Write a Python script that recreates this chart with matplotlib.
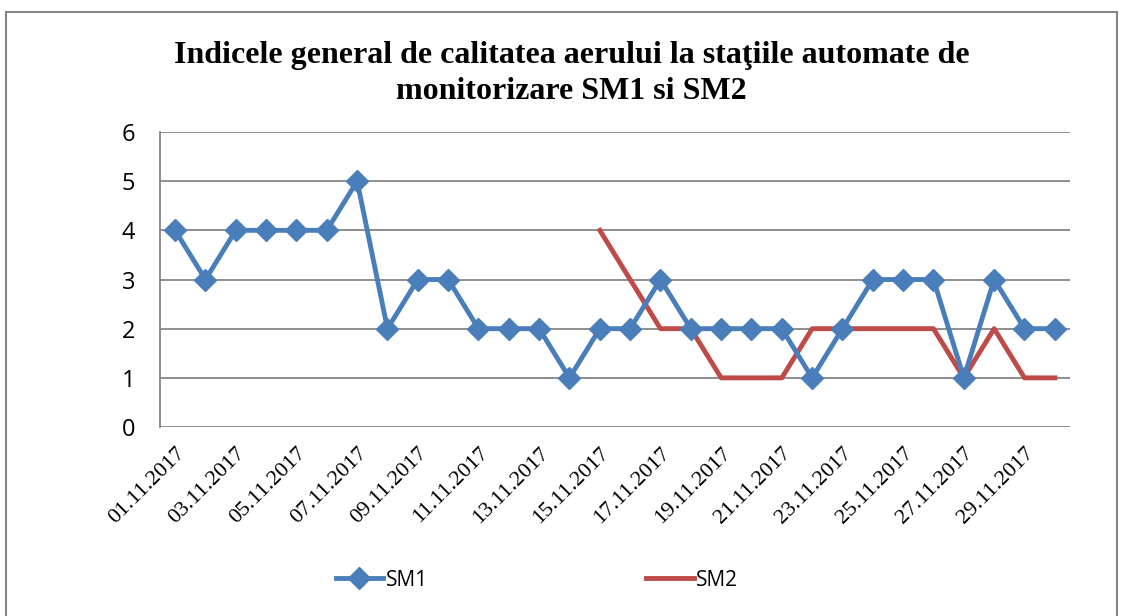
import matplotlib
matplotlib.use("Agg")
import matplotlib.pyplot as plt
from matplotlib.patches import Rectangle

# date zilnice, noiembrie 2017
zile = [f"{d:02d}.11.2017" for d in range(1, 31)]
sm1 = [4, 3, 4, 4, 4, 4, 5, 2, 3, 3, 2, 2, 2, 1, 2, 2, 3, 2, 2, 2, 2, 1, 2, 3, 3, 3, 1, 3, 2, 2]
sm2 = [None] * 14 + [4, 3, 2, 2, 1, 1, 1, 2, 2, 2, 2, 2, 1, 2, 1, 1]
yticks = [0, 1, 2, 3, 4, 5, 6]

fig = plt.figure(figsize=(11.21, 6.16), dpi=100)
ax = fig.add_axes([0.1427, 0.3068, 0.8118, 0.4789])

# chenarul graficului
fig.patches.append(Rectangle((6 / 1121, -0.05), 1111 / 1121, 1 - 12 / 616 + 0.05,
                             transform=fig.transFigure, fill=False,
                             edgecolor="#868686", linewidth=1.5))

x = list(range(len(zile)))
sm2_x = [i for i, v in zip(x, sm2) if v is not None]
sm2_y = [v for v in sm2 if v is not None]

ax.plot(x, sm1, color="#4A7EBB", lw=3.5, marker="D", markersize=11, label="SM1", zorder=3)
ax.plot(sm2_x, sm2_y, color="#BE4B48", lw=3.5, label="SM2", zorder=2)

ax.set_xlim(-0.5, len(zile) - 0.5)
ax.set_ylim(0, 6)
ax.set_yticks(yticks)
ax.yaxis.grid(True, color="#868686", lw=1.3)
ax.set_axisbelow(True)
for s in ["top", "right", "bottom"]:
    ax.spines[s].set_visible(False)
ax.spines["left"].set_color("#868686")
ax.spines["left"].set_linewidth(1.3)
ax.tick_params(axis="both", length=0)
ax.tick_params(axis="y", pad=18)
ax.tick_params(axis="x", pad=12)

ax.set_xticks(x[::2])
ax.set_xticklabels(zile[::2], rotation=45, ha="right", rotation_mode="anchor",
                   family="Liberation Serif", fontsize=16)
for t in ax.get_yticklabels():
    t.set_family("Open Sans")
    t.set_fontsize(17)

fig.text(0.51, 0.881, "Indicele general de calitatea aerului la staţiile automate de\nmonitorizare SM1 si SM2",
         ha="center", va="center", family="Liberation Serif", fontweight="bold",
         fontsize=23, linespacing=1.3)

fig.legend(loc="center", bbox_to_anchor=(0.479, 0.058), ncol=2, frameon=False,
           prop={"family": "Open Sans", "size": 15}, handlelength=2.3,
           handletextpad=0.1, columnspacing=10.5)

fig.savefig("out.png", dpi=100)
